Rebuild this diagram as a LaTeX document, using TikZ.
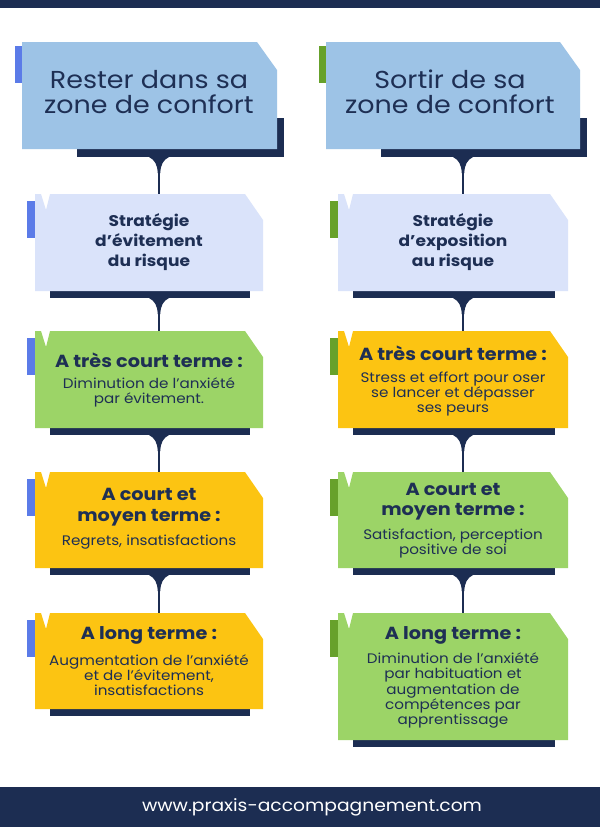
\documentclass[tikz,border=0pt]{standalone}
\usepackage{fontspec}
\setmainfont[FakeStretch=1.1]{Poppins}
\definecolor{navy}{HTML}{1C2D52}
\definecolor{txt}{HTML}{1E2F54}
\definecolor{titlebox}{HTML}{9DC3E6}
\definecolor{palebox}{HTML}{DAE3FA}
\definecolor{greenbox}{HTML}{9CD467}
\definecolor{yellowbox}{HTML}{FCC412}
\definecolor{blueacc}{HTML}{5B7BE8}
\definecolor{greenacc}{HTML}{67A12B}
\newcommand\cardshape[6]{%
  \fill[navy] (#1+15,#4-4) rectangle (#3-13,#4+7);
  \fill[#5] (#1,#2) -- (#1+6,#2) -- (#1+11,#2+16) -- (#1+15,#2) -- (#3-18,#2) -- (#3,#2+26) -- (#3,#4) -- (#1,#4) -- cycle;
  \fill[#6] (#1-8,#2+7) rectangle (#1,#2+44);
}
\newcommand\titleshape[5]{%
  \fill[navy] (#1+55,#4-31) rectangle (#3+7,#4+8);
  \fill[#5] (#1,#2) -- (#3-20,#2) -- (#3,#2+28) -- (#3,#4) -- (#1,#4) -- cycle;
  \fill[titleacc] (#1-7,#2+4) rectangle (#1,#2+41);
}
\tikzset{
  droptri/.pic={\fill[navy] (-10,0) .. controls (-4,3) and (-1.6,8) .. (-1.3,16) -- (1.3,16) .. controls (1.6,8) and (4,3) .. (10,0) -- cycle;},
  conn/.style={draw=navy, line width=2.5pt},
  titletext/.style={text=txt, align=center, font=\fontsize{24.5}{25}\selectfont, inner sep=0pt},
  stratext/.style={text=txt, align=center, font=\bfseries\fontsize{15.5}{20}\selectfont, inner sep=0pt},
  headtext/.style={text=txt, align=center, font=\bfseries\fontsize{17.5}{20.5}\selectfont, inner sep=0pt},
  bodytext/.style={text=txt, align=center, font=\fontsize{13.8}{15.25}\selectfont, inner sep=0pt},
}
\begin{document}
\begin{tikzpicture}[x=1pt,y=-1pt]
\useasboundingbox (0,0) rectangle (600,827);
\fill[white] (0,0) rectangle (600,827);
% bars
\fill[navy] (0,0) rectangle (600,8);
\fill[navy] (0,787) rectangle (600,827);
\node[text=white, font=\fontsize{17}{20}\selectfont, inner sep=0pt] (url) at (312,807) {www.praxis-accompagnement.com};

% ---------- left column ----------
\colorlet{titleacc}{blueacc}
\titleshape{22}{42}{277}{149}{titlebox}
\cardshape{35}{194}{263}{291}{palebox}{blueacc}
\cardshape{35}{331}{263}{428}{greenbox}{blueacc}
\cardshape{35}{472}{263}{568}{yellowbox}{blueacc}
\cardshape{35}{613}{263}{709}{yellowbox}{blueacc}

\node[titletext] (L1) at (149,92) {Rester dans sa\\zone de confort};
\node[stratext] (L2) at (149,242) {Stratégie\\d’évitement\\du risque};
\node[headtext] (L3h) at (149,360) {A très court terme :};
\node[bodytext] (L3b) at (149,392.5) {Diminution de l’anxiété\\par évitement.};
\node[headtext] (L4h) at (149,507) {A court et\\moyen terme :};
\node[bodytext] (L4b) at (149,542) {Regrets, insatisfactions};
\node[headtext] (L5h) at (149,635) {A long terme :};
\node[bodytext] (L5b) at (149,675) {Augmentation de l’anxiété\\et de l’évitement,\\insatisfactions};

\coordinate (L1s) at (159,157); \coordinate (L2n) at (159,194);
\coordinate (L2s) at (159,298); \coordinate (L3n) at (159,331);
\coordinate (L3s) at (159,435); \coordinate (L4n) at (159,472);
\coordinate (L4s) at (159,575); \coordinate (L5n) at (159,613);
\draw[conn] (L1s) -- (L2n);
\draw[conn] (L2s) -- (L3n);
\draw[conn] (L3s) -- (L4n);
\draw[conn] (L4s) -- (L5n);
\pic at (L1s) {droptri};
\pic at (L2s) {droptri};
\pic at (L3s) {droptri};
\pic at (L4s) {droptri};

% ---------- right column ----------
\colorlet{titleacc}{greenacc}
\titleshape{326}{42}{580}{149}{titlebox}
\cardshape{338}{194}{568}{291}{palebox}{greenacc}
\cardshape{338}{331}{568}{428}{yellowbox}{greenacc}
\cardshape{338}{472}{568}{568}{greenbox}{greenacc}
\cardshape{338}{613}{568}{740}{greenbox}{greenacc}

\node[titletext] (R1) at (450,92) {Sortir de sa\\zone de confort};
\node[stratext] (R2) at (453,242) {Stratégie\\d’exposition\\au risque};
\node[headtext] (R3h) at (453,353) {A très court terme :};
\node[bodytext] (R3b) at (453,394) {Stress et effort pour oser\\se lancer et dépasser\\ses peurs};
\node[headtext] (R4h) at (453,501.5) {A court et\\moyen terme :};
\node[bodytext] (R4b) at (453,543.5) {Satisfaction, perception\\positive de soi};
\node[headtext] (R5h) at (453,635) {A long terme :};
\node[bodytext] (R5b) at (453,690.5) {Diminution de l’anxiété\\par habituation et\\augmentation de\\compétences par\\apprentissage};

\coordinate (R1s) at (463,157); \coordinate (R2n) at (463,194);
\coordinate (R2s) at (463,298); \coordinate (R3n) at (463,331);
\coordinate (R3s) at (463,435); \coordinate (R4n) at (463,472);
\coordinate (R4s) at (463,575); \coordinate (R5n) at (463,613);
\draw[conn] (R1s) -- (R2n);
\draw[conn] (R2s) -- (R3n);
\draw[conn] (R3s) -- (R4n);
\draw[conn] (R4s) -- (R5n);
\pic at (R1s) {droptri};
\pic at (R2s) {droptri};
\pic at (R3s) {droptri};
\pic at (R4s) {droptri};
\end{tikzpicture}
\end{document}
